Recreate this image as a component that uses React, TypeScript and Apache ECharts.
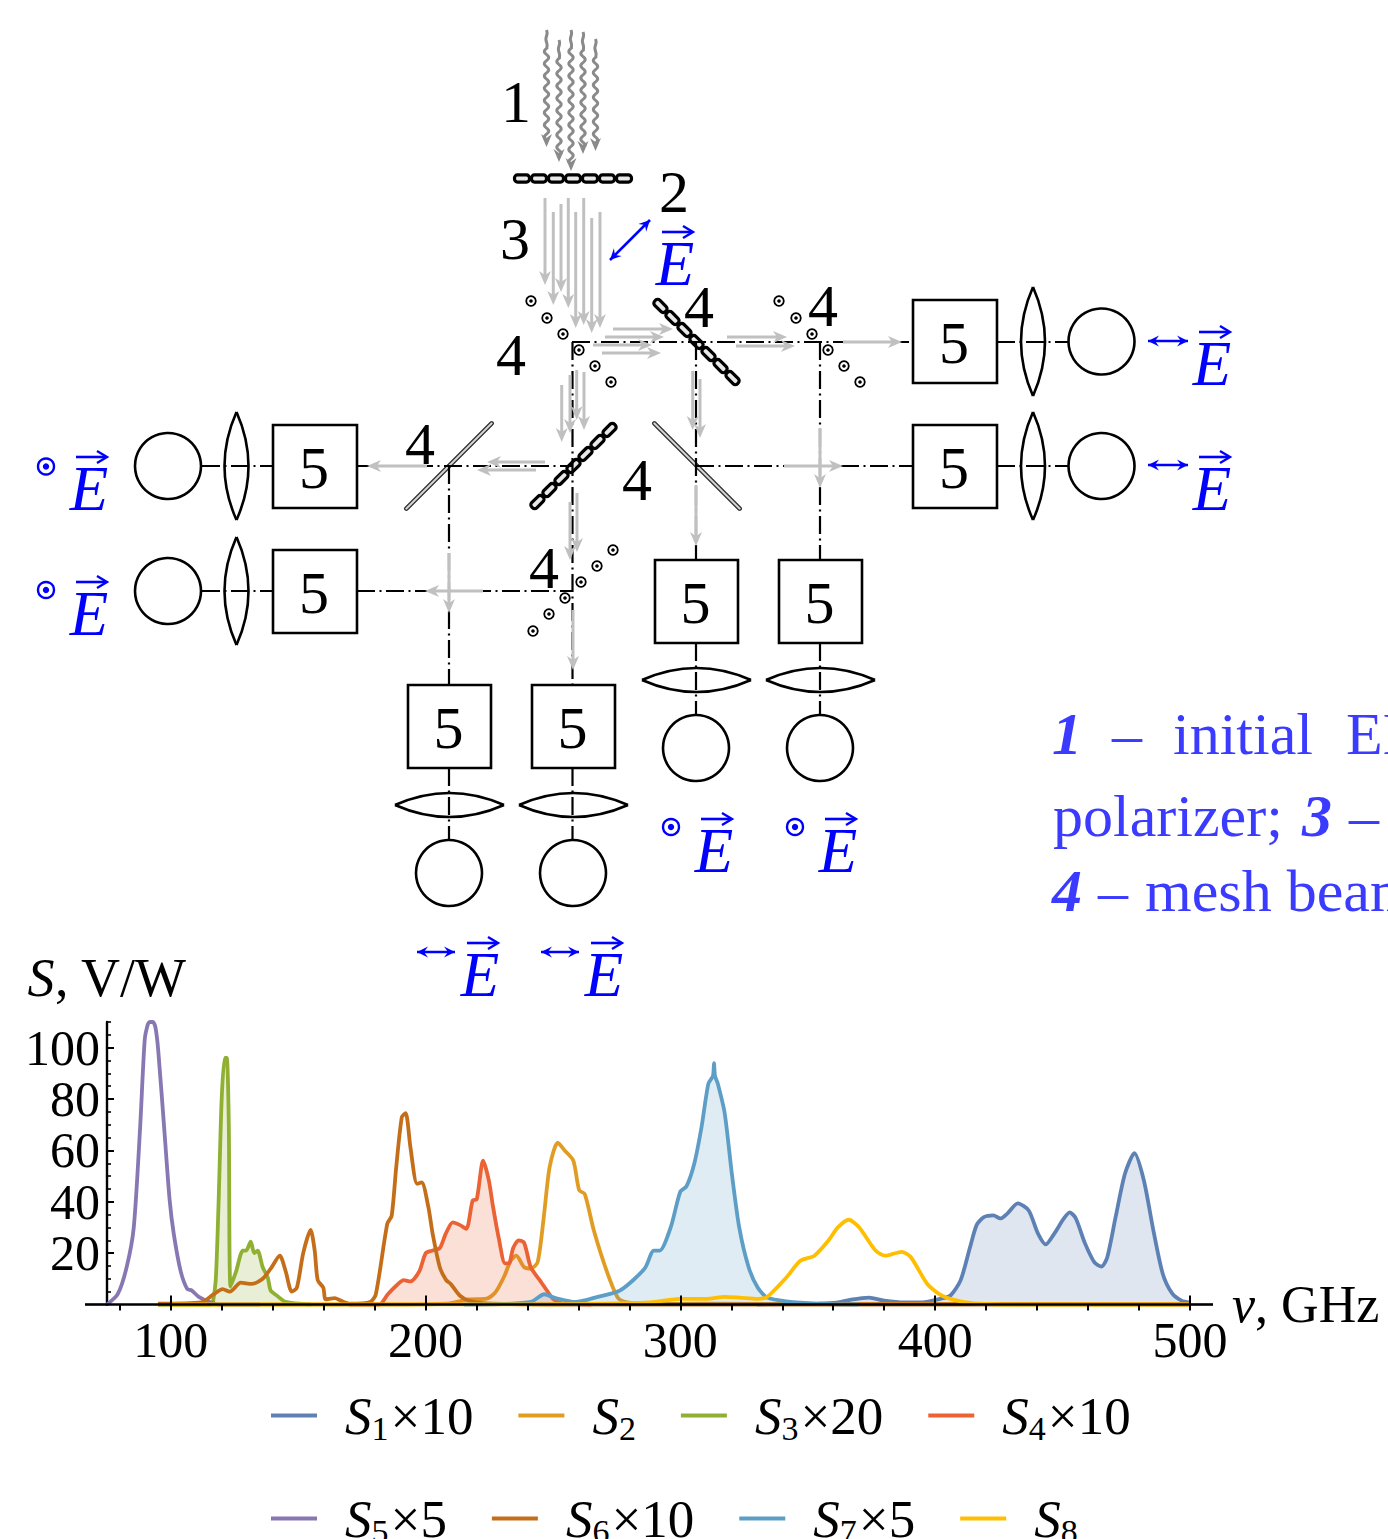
import React, { useEffect, useRef } from "react";
import * as echarts from "echarts";

const FONT = "Liberation Serif";
const BLUE = "#0000ff";
const TEXTBLUE = "#3b3bff";
const GREY = "#c0c0c0";
const DARKGREY = "#8a8a8a";

// spectral data: [frequency, GHz ; signal, V/W]
const S1: number[][] = [[330, 0], [354, 0.3], [362, 0.8], [367, 1.9], [374, 2.7], [380, 1.5], [388, 0.8], [395, 0.8], [402, 2.2], [406, 3.5], [410, 9.5], [413.6, 22], [416.3, 31], [419.1, 34], [422.8, 34.7], [425.6, 33.5], [428.4, 35.5], [432.4, 39.4], [436.7, 36.6], [440.3, 27.7], [443.4, 23.4], [446.8, 27.7], [450.5, 33.5], [452.8, 35.9], [455.2, 33.5], [458.8, 23.8], [462.5, 16.4], [465.3, 14.8], [467.5, 18.3], [470.8, 34], [474.5, 51], [478.2, 58.9], [481.9, 48.3], [485.6, 29], [489.3, 12], [493, 4.3], [496.7, 1.5], [500, 0.8]];
const S2: number[][] = [[95, 0], [180, 0], [208, 0.3], [217, 2], [224, 2.3], [227.4, 4.7], [230.9, 11], [233.4, 17], [235.6, 19], [238.7, 14.5], [241.3, 14], [244, 16.5], [246.4, 34], [248.7, 53.5], [251.9, 63], [254.6, 60], [258, 56], [260.3, 44.5], [262.5, 43], [266, 29], [271.1, 13], [275.4, 2.7], [278.2, 1], [285.2, 0.2], [310, 0.3], [500, 0.1]];
const S3: number[][] = [[95, 0], [116, 0], [116.5, 0.5], [117.7, 10], [118.8, 40], [120, 80], [121.2, 96], [122, 96], [122.8, 70], [123.5, 7], [125.7, 13], [128.3, 21], [129.6, 21], [131.4, 24.5], [132.8, 20], [134.1, 21], [136.1, 14.5], [138.1, 10.5], [139.2, 5.5], [141.6, 3.5], [145.1, 1], [155, 0]];
const S4: number[][] = [[170, 0], [181.8, 0], [185.2, 4], [188.7, 7.5], [191.4, 9.5], [194.1, 9], [197.6, 13], [200.1, 20], [202.8, 21], [205.6, 22], [207.9, 27.5], [210.7, 32], [213.4, 31], [216, 29.5], [218.5, 40.5], [220.1, 41], [222.6, 56], [224.8, 48.5], [226.5, 38], [228.7, 26], [231.2, 16], [232.7, 16], [234.4, 22], [236.6, 25], [238.7, 24], [241.3, 14.5], [244.8, 9.5], [247.6, 5.5], [250.2, 2], [253.7, 0.4], [265, 0]];
const S5: number[][] = [[75, 0], [79.2, 4], [82.7, 14.5], [85.5, 30], [88, 69], [89.8, 103], [91, 109], [91.8, 110], [93, 110], [94, 108], [95.1, 99], [97.6, 66.5], [99.6, 40.5], [101.2, 27.5], [103.9, 13], [106.5, 6], [108.2, 5.5], [111, 3], [115.3, 1], [119, 0], [135, 0]];
const S6: number[][] = [[95, 0.3], [112, 0.8], [116.9, 4], [120.4, 6], [123.2, 5], [127.5, 8.5], [131.8, 8], [136.1, 10], [139.6, 14.5], [142.8, 19], [145.1, 13], [147.5, 5], [149.5, 6.5], [152, 20], [154.9, 29], [156.5, 21], [157.7, 9.5], [159.9, 6.5], [160.8, 2], [164.4, 2.5], [166.7, 1.5], [170.3, 0.3], [178.3, 1], [180.5, 4], [185, 31.5], [186.7, 34.5], [188.5, 53.5], [190.7, 73], [192.2, 74.5], [194.1, 61], [196.7, 47], [198.5, 47.5], [201.1, 38], [202.8, 27.5], [205.6, 14.5], [208.1, 9.5], [209.9, 8], [213.4, 3.5], [217, 1.5], [224, 0.4], [260, 0], [500, 0]];
const S7: number[][] = [[215, 0], [230, 0.2], [241.3, 1], [246.6, 4], [251.1, 2.5], [258.9, 1], [267.6, 3], [276.4, 5.5], [286, 14], [289.6, 21], [291.9, 21], [296.2, 30], [300, 44], [302.4, 46], [305.5, 55], [308.3, 69], [311, 86], [312.8, 89], [313.2, 94], [313.6, 89], [314.7, 86], [317.4, 74.5], [320.2, 51], [323.1, 30], [326.8, 14.5], [330.4, 6.5], [334.1, 2.7], [341.6, 1.2], [354.3, 0.3], [370, 0]];
const S8: number[][] = [[100, 0], [250, 0.1], [288, 0.8], [300, 2.2], [310.2, 2.2], [317.4, 3], [323.1, 2.7], [330.4, 2.2], [334.1, 3], [337.8, 6.5], [341.6, 10.5], [347.1, 17], [352.6, 19], [358.2, 25], [361.8, 30], [366.1, 33], [370.2, 30], [376.6, 21], [380.4, 19], [386.8, 20.5], [390.4, 18.5], [396.9, 8], [402.5, 3.5], [409.9, 1.2], [417.3, 0.3], [430, 0], [500, 0]];

const seriesNames = ["S1×10", "S2", "S3×20", "S4×10", "S5×5", "S6×10", "S7×5", "S8"];
const seriesSubs = ["1", "2", "3", "4", "5", "6", "7", "8"];
const seriesFactors = ["×10", "", "×20", "×10", "×5", "×10", "×5", ""];
const seriesColors = ["#5E81B5", "#E19C24", "#8FB032", "#EB6235", "#8778B3", "#C56E1A", "#5D9EC7", "#FFBF00"];
const seriesData = [S1, S2, S3, S4, S5, S6, S7, S8];
const filled = [true, false, true, true, false, false, true, false];

const xMajorTicks = [100, 200, 300, 400, 500];
const xMinorTicks = [80, 100, 120, 140, 160, 180, 200, 220, 240, 260, 280, 300, 320, 340, 360, 380, 400, 420, 440, 460, 480, 500];
const yMajorTicks = [20, 40, 60, 80, 100];
const yMinorTicks = [5, 10, 15, 20, 25, 30, 35, 40, 45, 50, 55, 60, 65, 70, 75, 80, 85, 90, 95, 100, 105, 110];

// ---- diagram helpers (decoration, not data) ----
type G = any;
const els: G[] = [];
const T = (text: string, x: number, y: number, size = 60, color = "#000", opts: any = {}) =>
  els.push({ type: "text", x, y, z: 5, style: { text, fontFamily: FONT, fontSize: size, fill: color, align: opts.align ?? "center", verticalAlign: "middle", fontStyle: opts.italic ? "italic" : "normal", fontWeight: opts.bold ? "bold" : "normal" } });
const L = (x1: number, y1: number, x2: number, y2: number, stroke = "#000", lineWidth = 2, lineDash?: number[]) =>
  els.push({ type: "line", z: 1, shape: { x1, y1, x2, y2 }, style: { stroke, lineWidth, lineDash } });
const DD = (x1: number, y1: number, x2: number, y2: number) => L(x1, y1, x2, y2, "#000", 2.2, [18, 4.5, 2, 4.5]);
const head = (x: number, y: number, dx: number, dy: number, fill: string, len = 14, hw = 6) => {
  const px = -dy, py = dx;
  els.push({ type: "polygon", z: 2, shape: { points: [[x, y], [x - dx * len + px * hw, y - dy * len + py * hw], [x - dx * (len - 4), y - dy * (len - 4)], [x - dx * len - px * hw, y - dy * len - py * hw]] }, style: { fill } });
};
const A = (x1: number, y1: number, x2: number, y2: number, color = GREY) => {
  const d = Math.hypot(x2 - x1, y2 - y1);
  const dx = (x2 - x1) / d, dy = (y2 - y1) / d;
  els.push({ type: "line", z: 2, shape: { x1, y1, x2: x2 - dx * 8, y2: y2 - dy * 8 }, style: { stroke: color, lineWidth: 3 } });
  head(x2, y2, dx, dy, color);
};
const wavy = (x: number, y1: number, y2: number) => {
  const pts: number[][] = [];
  for (let y = y1; y <= y2 - 8; y += 1) {
    const amp = y < y1 + 18 ? 0.6 : 2.2;
    pts.push([x + amp * Math.sin((y - y1) / 1.95), y]);
  }
  els.push({ type: "polyline", z: 2, shape: { points: pts }, style: { stroke: DARKGREY, lineWidth: 3, fill: "none" } });
  head(x, y2, 0, 1, DARKGREY, 13, 5.5);
};
const box = (x: number, y: number, w: number, h: number) => {
  els.push({ type: "rect", z: 3, shape: { x, y, width: w, height: h }, style: { fill: "none", stroke: "#000", lineWidth: 2.6 } });
  T("5", x + w / 2 - 1, y + h / 2 + 1, 60);
};
const lensV = (x: number, y1: number, y2: number) => {
  const m = (y1 + y2) / 2;
  [-24, 24].forEach((o) => els.push({ type: "bezierCurve", z: 3, shape: { x1: x, y1, x2: x, y2, cpx1: x + o, cpy1: m }, style: { fill: "none", stroke: "#000", lineWidth: 2.6 } }));
};
const lensH = (y: number, x1: number, x2: number) => {
  const m = (x1 + x2) / 2;
  [-24, 24].forEach((o) => els.push({ type: "bezierCurve", z: 3, shape: { x1, y1: y, x2, y2: y, cpx1: m, cpy1: y + o }, style: { fill: "none", stroke: "#000", lineWidth: 2.6 } }));
};
const circle = (cx: number, cy: number, r = 33) => els.push({ type: "circle", z: 3, shape: { cx, cy, r }, style: { fill: "none", stroke: "#000", lineWidth: 2.6 } });
const dotc = (cx: number, cy: number, r: number, color: string, lw: number, dr: number) => {
  els.push({ type: "circle", z: 3, shape: { cx, cy, r }, style: { fill: "none", stroke: color, lineWidth: lw } });
  els.push({ type: "circle", z: 3, shape: { cx, cy, r: dr }, style: { fill: color } });
};
const vecE = (cx: number, cy: number) => {
  T("E", cx, cy, 63, BLUE, { italic: true });
  const y = cy - 32;
  els.push({ type: "line", z: 5, shape: { x1: cx - 13, y1: y, x2: cx + 17, y2: y }, style: { stroke: BLUE, lineWidth: 2.6 } });
  els.push({ type: "polyline", z: 5, shape: { points: [[cx + 8, y - 6], [cx + 18, y], [cx + 8, y + 6]] }, style: { fill: "none", stroke: BLUE, lineWidth: 2.4 } });
};
const dblArrow = (x1: number, y1: number, x2: number, y2: number) => {
  const d = Math.hypot(x2 - x1, y2 - y1);
  const dx = (x2 - x1) / d, dy = (y2 - y1) / d;
  els.push({ type: "line", z: 5, shape: { x1, y1, x2, y2 }, style: { stroke: BLUE, lineWidth: 2.6 } });
  head(x2, y2, dx, dy, BLUE, 11, 5.5);
  head(x1, y1, -dx, -dy, BLUE, 11, 5.5);
};
const chain = (cx: number, cy: number, rotation: number) => {
  const children: G[] = [{ type: "line", shape: { x1: -58, y1: 0, x2: 58, y2: 0 }, style: { stroke: "#000", lineWidth: 2.5 } }];
  for (let i = 0; i < 7; i++) {
    children.push({ type: "rect", shape: { x: -58.5 + i * 17, y: -3.6, width: 15, height: 7.2, r: 3 }, style: { fill: "#e8e8e8", stroke: "#000", lineWidth: 3.2 } });
  }
  els.push({ type: "group", z: 4, x: cx, y: cy, rotation, children });
};
const plate = (cx: number, cy: number, rotation: number) =>
  els.push({ type: "group", z: 4, x: cx, y: cy, rotation, children: [{ type: "rect", shape: { x: -62, y: -1.7, width: 124, height: 3.4, r: 1.7 }, style: { fill: "#d8d8d8", stroke: "#333", lineWidth: 1.3 } }] });

// dash-dot rays
DD(572, 342, 912, 342); DD(997, 342, 1068, 342);
DD(696, 466, 912, 466); DD(997, 466, 1068, 466);
DD(357, 466, 573, 466); DD(202, 466, 273, 466);
DD(357, 591, 572, 591); DD(202, 591, 273, 591);
DD(572.5, 342, 572.5, 685); DD(572.5, 768, 572.5, 840);
DD(696, 342, 696, 560); DD(696, 643, 696, 715);
DD(820, 342, 820, 560); DD(820, 643, 820, 715);
DD(449, 466, 449, 685); DD(449, 768, 449, 840);

// incoming EM radiation
wavy(546.5, 30, 147); wavy(559, 40, 162); wavy(571, 30, 171); wavy(583, 32, 154); wavy(595.5, 39, 151);
// polarised rays
[[545, 198, 285], [553.3, 212, 305], [561, 204, 292], [568.3, 198, 308], [575.7, 212, 328], [583.7, 198, 325], [591.7, 218, 333], [600, 212, 328]].forEach(([x, a, b]) => A(x, a, x, b));
A(613, 329, 673, 329); A(605, 337, 664, 337); A(593, 345, 652, 345); A(602, 353, 661, 353);
A(727, 337, 787, 337); A(736, 346, 795, 346); A(843, 342, 902, 342);
A(561.7, 385, 561.7, 442); A(570, 375, 570, 433); A(576.7, 370, 576.7, 420); A(584, 372, 584, 430);
A(692.7, 371, 692.7, 430); A(700, 379, 700, 438);
A(545, 462, 487, 462); A(536, 470, 477, 470); A(427, 466, 367, 466);
A(570, 502, 570, 560); A(577, 493, 577, 552);
A(696, 485, 696, 546);
A(784, 466, 843, 466); A(820, 428, 820, 488);
A(483, 591, 425, 591); A(449, 553, 449, 613);
A(573, 610, 573, 670);

chain(573, 178.5, 0);
chain(696.5, 342, -Math.PI / 4);
chain(573.5, 466, Math.PI / 4);
plate(449, 466, Math.PI / 4);
plate(697, 466, -Math.PI / 4);

// polarisation dots
[[531, 301], [547, 318], [563, 334], [579, 350], [595, 366], [611, 382], [779, 301], [796, 318], [812, 334], [828, 350], [844, 366], [860, 382], [613, 550], [597, 566], [581, 582], [565, 598], [549, 614], [533, 631]].forEach(([x, y]) => dotc(x, y, 4.8, "#000", 1.8, 1.8));

// detector channels
box(913, 300, 84, 83); lensV(1033, 287, 396); circle(1101.5, 341.5); dblArrow(1148, 341, 1188, 341); vecE(1212, 364);
box(913, 425, 84, 83); lensV(1033, 412, 520); circle(1101.5, 466); dblArrow(1148, 465, 1188, 465); vecE(1212, 489);
box(273, 425, 84, 83); lensV(236.5, 412, 520); circle(168, 466); dotc(46, 466.5, 8, BLUE, 2.4, 3.2); vecE(89, 489);
box(273, 550, 84, 83); lensV(236.5, 537, 645); circle(168, 591); dotc(46, 590, 8, BLUE, 2.4, 3.2); vecE(89, 614);
box(655, 560, 83, 83); lensH(680, 642, 751); circle(696, 748); dotc(671, 827, 8, BLUE, 2.4, 3.2); vecE(714, 851);
box(779, 560, 83, 83); lensH(680, 766, 875); circle(820, 748); dotc(795, 827, 8, BLUE, 2.4, 3.2); vecE(838, 851);
box(408, 685, 83, 83); lensH(805, 395, 504); circle(449, 873); dblArrow(417, 952, 455, 952); vecE(480, 975);
box(532, 685, 83, 83); lensH(805, 519, 628); circle(573, 873); dblArrow(541, 952, 579, 952); vecE(604, 975);

dblArrow(610, 260, 650, 220);
vecE(675, 264);

// element numbers
T("1", 516, 102); T("2", 674, 192); T("3", 515, 239);
T("4", 699, 307); T("4", 823, 306); T("4", 511, 355); T("4", 420, 444); T("4", 637, 480); T("4", 544, 568);

// caption, cut by the page edge
const capt = (text: string, x: number, base: number, bold = false) => T(text, x, base - 20, 60, TEXTBLUE, { align: "left", italic: bold, bold });
capt("1", 1052, 754, true); capt("–", 1112, 754); capt("initial", 1173, 754); capt("EM", 1346, 754);
capt("polarizer;", 1053, 836); capt("3", 1302, 836, true); capt("–", 1349, 836);
capt("4", 1052, 911, true); capt("–", 1098, 911); capt("mesh beam", 1145, 911);

// baseline extensions past the value range
L(85, 1304.5, 107, 1304.5, "#000", 2.6);
L(1190, 1304.5, 1213, 1304.5, "#000", 2.6);

const legendFormatter = (name: string) => {
  const i = seriesNames.indexOf(name);
  return `{i|S}{s|${seriesSubs[i]}}${seriesFactors[i] ? `{n|${seriesFactors[i]}}` : ""}`;
};
const legendText = {
  fontFamily: FONT,
  fontSize: 53,
  color: "#000",
  padding: [0, 0, 0, 23],
  rich: {
    i: { fontFamily: FONT, fontStyle: "italic", fontSize: 53, color: "#000" },
    s: { fontFamily: FONT, fontSize: 34, color: "#000", padding: [26, 2, 0, 0] },
    n: { fontFamily: FONT, fontSize: 53, color: "#000" },
  },
};

export default function App() {
  const ref = useRef<HTMLDivElement>(null);
  useEffect(() => {
    const chart = echarts.init(ref.current!, null, { renderer: "svg" });
    chart.setOption({
      animation: false,
      backgroundColor: "#fff",
      textStyle: { fontFamily: FONT },
      grid: { left: 107, right: 198, top: 1022, bottom: 234.5, containLabel: false },
      legend: [
        { data: seriesNames.slice(0, 4), left: 266, top: 1384, icon: "rect", orient: "horizontal", itemWidth: 46, itemHeight: 4, itemGap: 45, selectedMode: false, formatter: legendFormatter, textStyle: legendText },
        { data: seriesNames.slice(4), left: 266, top: 1487, icon: "rect", orient: "horizontal", itemWidth: 46, itemHeight: 4, itemGap: 45, selectedMode: false, formatter: legendFormatter, textStyle: legendText },
      ],
      xAxis: [
        {
          type: "value", min: 75, max: 500, splitLine: { show: false }, z: 30,
          name: "{i|ν}, GHz", nameLocation: "end", nameGap: 42,
          nameTextStyle: { fontFamily: FONT, fontSize: 52, color: "#000", rich: { i: { fontFamily: FONT, fontStyle: "italic", fontSize: 52, color: "#000" } } },
          axisLine: { show: true, onZero: false, lineStyle: { color: "#000", width: 2.6 } },
          axisTick: { show: true, inside: true, length: 9, customValues: xMajorTicks, lineStyle: { color: "#000", width: 2 } },
          axisLabel: { show: true, customValues: xMajorTicks, margin: 10, fontFamily: FONT, fontSize: 50, color: "#000", hideOverlap: false },
        },
        {
          type: "value", min: 75, max: 500, splitLine: { show: false }, z: 30,
          axisLine: { show: false },
          axisTick: { show: true, inside: true, length: 6, customValues: xMinorTicks, lineStyle: { color: "#000", width: 2 } },
          axisLabel: { show: false },
        },
      ],
      yAxis: [
        {
          type: "value", min: 0, max: 110, splitLine: { show: false },
          name: "{i|S}, V/W", nameLocation: "end", nameGap: 17,
          nameTextStyle: { fontFamily: FONT, fontSize: 54, color: "#000", align: "center", rich: { i: { fontFamily: FONT, fontStyle: "italic", fontSize: 54, color: "#000" } } },
          axisLine: { show: true, onZero: false, lineStyle: { color: "#000", width: 2.4 } },
          axisTick: { show: true, inside: true, length: 7, customValues: yMajorTicks, lineStyle: { color: "#000", width: 2 } },
          axisLabel: { show: true, customValues: yMajorTicks, margin: 7, fontFamily: FONT, fontSize: 50, color: "#000" },
        },
        {
          type: "value", min: 0, max: 110, position: "left", splitLine: { show: false },
          axisLine: { show: false },
          axisTick: { show: true, inside: true, length: 4, customValues: yMinorTicks, lineStyle: { color: "#000", width: 1.6 } },
          axisLabel: { show: false },
        },
      ],
      series: seriesData.map((d, i) => ({
        name: seriesNames[i],
        type: "line",
        xAxisIndex: 0,
        yAxisIndex: 0,
        data: d,
        symbol: "none",
        smooth: 0.25,
        clip: false,
        lineStyle: { color: seriesColors[i], width: 3.8 },
        itemStyle: { color: seriesColors[i] },
        areaStyle: filled[i] ? { color: seriesColors[i], opacity: 0.2 } : undefined,
        z: 2 + i,
      })),
      graphic: { elements: els },
    });
    return () => chart.dispose();
  }, []);
  return <div ref={ref} style={{ position: "absolute", left: 0, top: 0, width: 1388, height: 1539, overflow: "hidden" }} />;
}
